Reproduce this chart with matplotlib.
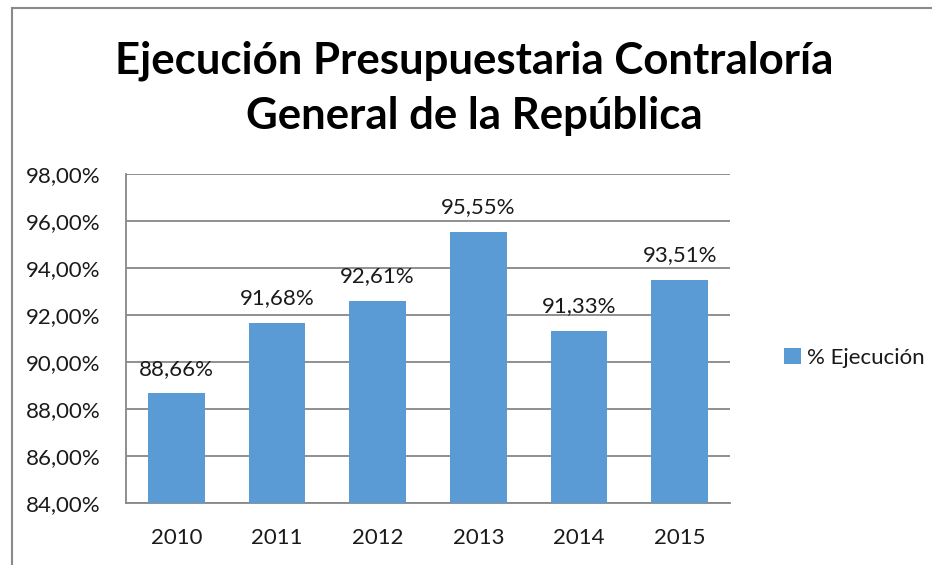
import matplotlib
matplotlib.use("Agg")
import matplotlib.pyplot as plt
from matplotlib.lines import Line2D

years = ["2010", "2011", "2012", "2013", "2014", "2015"]
values = [88.66, 91.68, 92.61, 95.55, 91.33, 93.51]
labels = ["88,66%", "91,68%", "92,61%", "95,55%", "91,33%", "93,51%"]
yticks = [84, 86, 88, 90, 92, 94, 96, 98]
ytick_labels = ["84,00%", "86,00%", "88,00%", "90,00%", "92,00%", "94,00%", "96,00%", "98,00%"]
title = "Ejecución Presupuestaria Contraloría\nGeneral de la República"
series_name = "% Ejecución"

plt.rcParams['font.family'] = ['Lato', 'DejaVu Sans']
W, H = 932, 565
fig = plt.figure(figsize=(W/100, H/100), dpi=100)
ax = fig.add_axes([126/W, 1-503/H, (730-126)/W, (503-174)/H])

bar_color = "#5B9BD5"
grid_color = "#878787"
text_color = "#1a1a1a"
fs = 16

x = list(range(len(years)))
bars = ax.bar(x, values, width=0.56, color=bar_color, label=series_name, zorder=3)
ax.set_xlim(-0.5, len(years)-0.5)
ax.set_ylim(84, 98)
ax.set_yticks(yticks)
ax.set_yticklabels(ytick_labels, fontsize=fs, color=text_color)
ax.set_xticks(x)
ax.set_xticklabels(years, fontsize=fs, color=text_color)
ax.tick_params(axis='y', length=0, pad=18.5)
ax.tick_params(axis='x', length=0, pad=18)
ax.yaxis.grid(True, color=grid_color, linewidth=1.3, zorder=0)
for s in ["top", "right"]:
    ax.spines[s].set_visible(False)
for s in ["left", "bottom"]:
    ax.spines[s].set_color(grid_color)
    ax.spines[s].set_linewidth(1.3)

for xi, v, lab in zip(x, values, labels):
    ax.annotate(lab, (xi, v), xytext=(0, 10.5), textcoords="offset points",
                ha="center", va="bottom", fontsize=fs, color=text_color)

fig.text(474/W, 1-88/H, title, ha="center", va="center", fontsize=31.5,
         fontweight="bold", color="black", linespacing=1.45)

leg = fig.legend(handles=[bars], labels=[series_name], loc="center left",
                 bbox_to_anchor=(764/W, 1-358/H), frameon=False, fontsize=fs,
                 handlelength=0.75, handleheight=0.75, handletextpad=0.3)
for t in leg.get_texts():
    t.set_color(text_color)

# outer border (partially visible)
fig.add_artist(Line2D([12/W, 12/W], [0, 1-8/H], transform=fig.transFigure, color="#8a8a8a", lw=1.5))
fig.add_artist(Line2D([12/W, 1], [1-8/H, 1-8/H], transform=fig.transFigure, color="#8a8a8a", lw=1.5))

fig.savefig("out.png", dpi=100)
